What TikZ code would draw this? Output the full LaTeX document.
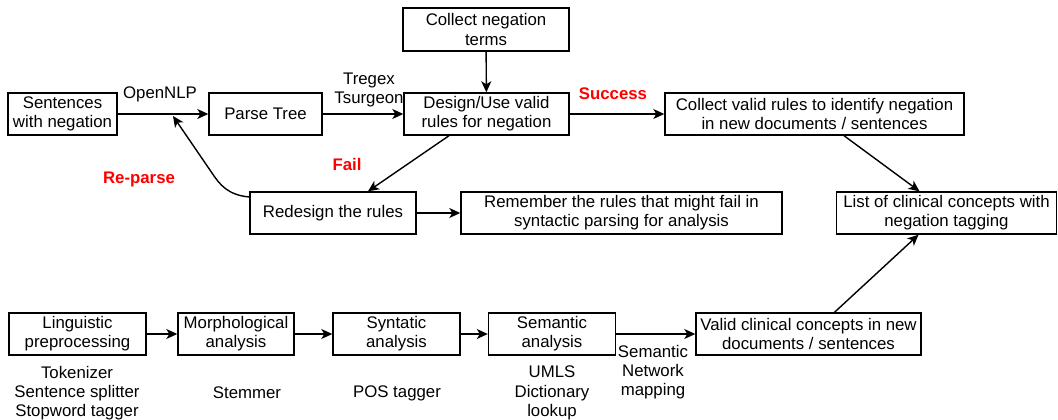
\documentclass[tikz,border=0pt]{standalone}
\usepackage{fontspec}
\setmainfont{Liberation Sans}
\usetikzlibrary{arrows.meta}
\begin{document}
\begin{tikzpicture}[x=1pt,y=-1pt,
  font=\fontsize{16.8}{19.3}\selectfont,
  box/.style={draw,line width=1.4pt,inner sep=0pt,align=center,minimum height=42pt},
  lab/.style={inner sep=0pt,align=center},
  redlab/.style={inner sep=0pt,text=red,font=\fontsize{16.8}{19.3}\selectfont\bfseries},
  arr/.style={line width=1.4pt,-{Stealth[length=11pt,width=10pt,inset=3pt]}}]
\useasboundingbox (0,0) rectangle (1058,420);
% top row
\node[box,minimum width=109pt] (sent) at (62.5,114) {Sentences\\with negation};
\node[box,minimum width=113pt] (parse) at (265.5,114) {Parse Tree};
\node[box,minimum width=165pt] (design) at (486.5,114) {Design/Use valid\\rules for negation};
\node[box,minimum width=166pt,minimum height=43pt] (negterms) at (486,29.5) {Collect negation\\terms};
\node[box,minimum width=299pt] (collect) at (814.5,114) {Collect valid rules to identify negation\\in new documents / sentences};
\node[box,minimum width=220pt] (list) at (946.5,213) {List of clinical concepts with\\negation tagging};
\node[box,minimum width=166pt] (redesign) at (333,213) {Redesign the rules};
\node[box,minimum width=321pt] (remember) at (621.5,213) {Remember the rules that might fail in\\syntactic parsing for analysis};
% bottom row
\node[box,minimum width=137pt] (ling) at (77.5,334) {Linguistic\\preprocessing};
\node[box,minimum width=116pt] (morph) at (236,334) {Morphological\\analysis};
\node[box,minimum width=127pt] (synt) at (396.5,334) {Syntatic\\analysis};
\node[box,minimum width=127pt] (sem) at (552,334) {Semantic\\analysis};
\node[box,minimum width=225pt] (valid) at (808.5,334) {Valid clinical concepts in new\\documents / sentences};
% labels
\node[lab] (lopen) at (160,94) {OpenNLP};
\node[lab] (ltreg) at (369,90) {Tregex\\Tsurgeon};
\node[redlab] (lsucc) at (613,94) {Success};
\node[redlab] (lfail) at (347,164) {Fail};
\node[redlab] (lrep) at (139,179.5) {Re-parse};
\node[lab] (ltok) at (77,393) {Tokenizer\\Sentence splitter\\Stopword tagger};
\node[lab] (lstem) at (247,393) {Stemmer};
\node[lab] (lpos) at (397,393) {POS tagger};
\node[lab] (lumls) at (552,393) {UMLS\\Dictionary\\lookup};
\node[lab] (lsemnet) at (653,372) {Semantic\\Network\\mapping};
% connectors
\draw[arr] (sent) -- (parse);
\draw[arr] (parse) -- (design);
\draw[arr] (negterms) -- (design);
\draw[arr] (design) -- (collect);
\draw[arr] ([xshift=-37.5pt]design.south) -- ([xshift=35pt]redesign.north);
\draw[arr] (redesign) -- (remember);
\coordinate (rp) at (173,116);
\draw[arr] ([yshift=16pt]redesign.west) .. controls (228,195) and (220,185) .. (212,173) -- (rp);
\draw[arr] ([xshift=29.5pt]collect.south) -- ([xshift=-27pt]list.north);
\draw[arr] ([xshift=26pt]valid.north) -- ([xshift=-28pt]list.south);
\draw[arr] (ling) -- (morph);
\draw[arr] (morph) -- (synt);
\draw[arr] (synt) -- (sem);
\draw[arr] (sem) -- (valid);
\end{tikzpicture}
\end{document}
